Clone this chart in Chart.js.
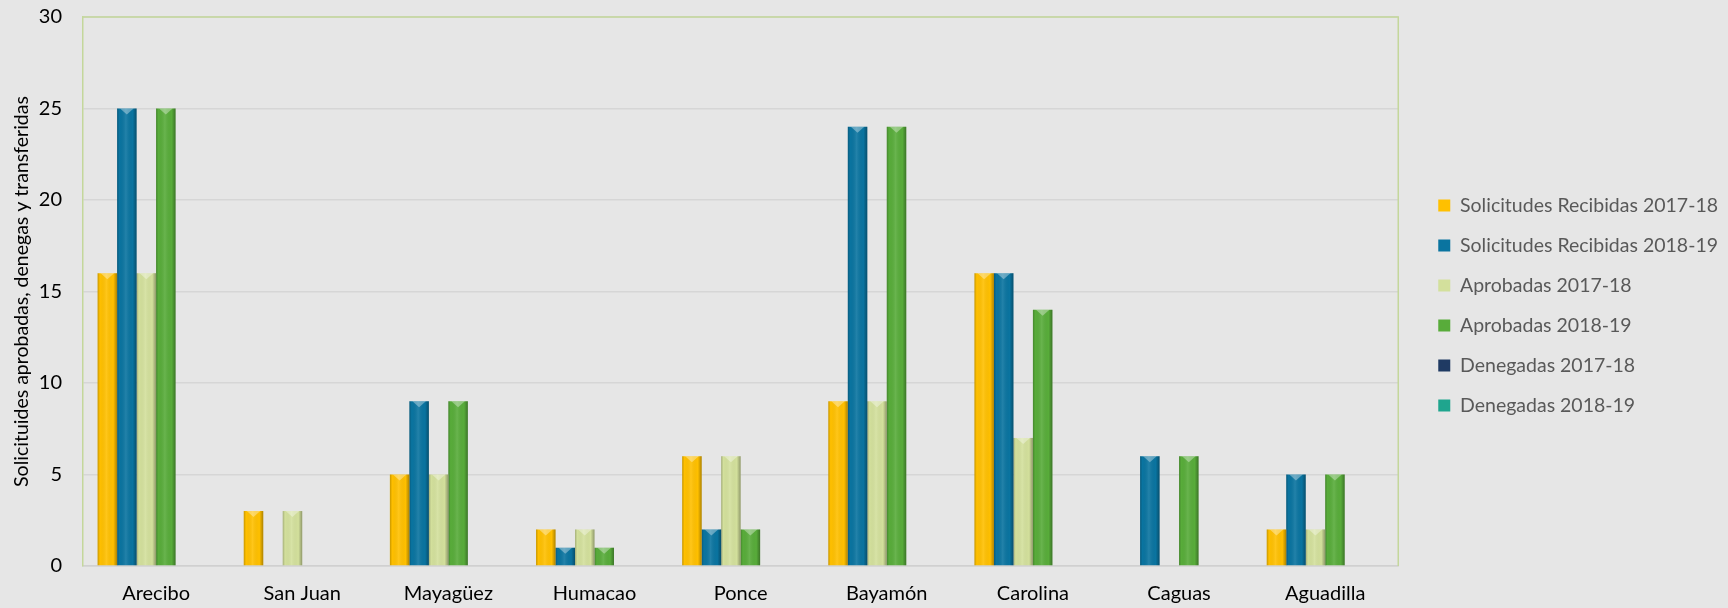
<!DOCTYPE html>
<html><head><meta charset="utf-8">
<script src="https://cdn.jsdelivr.net/npm/chart.js@4"></script>
<style>html,body{margin:0;padding:0;background:#e6e6e6;overflow:hidden}#wrap{width:1728px;height:608px;position:relative}</style>
</head><body><div id="wrap"><canvas id="c" width="1728" height="608"></canvas></div>
<script>
const categories = ['Arecibo','San Juan','Mayagüez','Humacao','Ponce','Bayamón','Carolina','Caguas','Aguadilla'];
const seriesNames = ['Solicitudes Recibidas 2017-18','Solicitudes Recibidas 2018-19','Aprobadas 2017-18','Aprobadas 2018-19','Denegadas 2017-18','Denegadas 2018-19'];
const recibidas1718 = [16,3,5,2,6,9,16,0,2];
const recibidas1819 = [25,0,9,1,2,24,16,6,5];
const aprobadas1718 = [16,3,5,2,6,9,7,0,2];
const aprobadas1819 = [25,0,9,1,2,24,14,6,5];
const denegadas1718 = [0,0,0,0,0,0,0,0,0];
const denegadas1819 = [0,0,0,0,0,0,0,0,0];
const yTicks = [0,5,10,15,20,25,30];
const yTitle = 'Solicituides aprobadas, denegas y transferidas';

const seriesValues = [recibidas1718, recibidas1819, aprobadas1718, aprobadas1819, denegadas1718, denegadas1819];
const seriesColors = ['#FFC000','#0A74A0','#D3E09C','#58AC3A','#1F3A63','#1FA58E'];
const FONT = 'Lato';
const LEGEND_SIZE = 19.5;
const LEGEND_PAD = 20.5;
const LEGEND_BOX = 12;
const LEGEND_GAP = 19.5;
const LEGEND_SHIFT_Y = -7;

const shadePlugin = {
  id: 'shade',
  afterDatasetsDraw(chart) {
    const ctx = chart.ctx;
    chart.data.datasets.forEach((ds, di) => {
      const meta = chart.getDatasetMeta(di);
      meta.data.forEach(el => {
        const p = el.getProps(['x','y','base','width'], true);
        const h = p.base - p.y;
        if (Math.abs(h) < 1) return;
        const l = p.x - p.width/2, r = p.x + p.width/2;
        const g = ctx.createLinearGradient(l, 0, r, 0);
        g.addColorStop(0, 'rgba(0,0,0,0.22)');
        g.addColorStop(0.12, 'rgba(0,0,0,0.0)');
        g.addColorStop(0.45, 'rgba(255,255,255,0.10)');
        g.addColorStop(0.8, 'rgba(0,0,0,0.0)');
        g.addColorStop(1, 'rgba(0,0,0,0.32)');
        ctx.save();
        ctx.fillStyle = g;
        ctx.fillRect(l, p.y, p.width, h);
        ctx.beginPath();
        ctx.moveTo(l + 3, p.y);
        ctx.lineTo(r - 3, p.y);
        ctx.lineTo(p.x, p.y + 6);
        ctx.closePath();
        ctx.fillStyle = 'rgba(255,255,255,0.35)';
        ctx.fill();
        ctx.restore();
      });
    });
  }
};

const borderPlugin = {
  id: 'plotBorder',
  beforeDatasetsDraw(chart) {
    const {ctx, chartArea: a} = chart;
    ctx.save();
    ctx.strokeStyle = '#C4D79B';
    ctx.lineWidth = 1.5;
    ctx.beginPath();
    ctx.moveTo(a.left, a.top);
    ctx.lineTo(a.right, a.top);
    ctx.lineTo(a.right, a.bottom);
    ctx.stroke();
    ctx.restore();
  }
};

const legendGapPlugin = {
  id: 'legendGap',
  beforeLayout(chart) {
    const lg = chart.legend;
    if (lg && !lg.__gapPatched) {
      const orig = lg.fit;
      lg.fit = function () { orig.call(this); this.width += LEGEND_GAP; };
      lg.__gapPatched = true;
    }
  },
  afterLayout(chart) {
    const lg = chart.legend;
    if (!lg) return;
    lg.left += LEGEND_GAP;
    lg.top += LEGEND_SHIFT_Y;
    lg.bottom += LEGEND_SHIFT_Y;
    // keep the widest label inside the canvas
    const ctx = chart.ctx;
    ctx.save();
    ctx.font = LEGEND_SIZE + 'px ' + FONT;
    let maxW = 0;
    seriesNames.forEach(n => { maxW = Math.max(maxW, ctx.measureText(n).width); });
    ctx.restore();
    const textEnd = lg.left + LEGEND_PAD + LEGEND_BOX + LEGEND_SIZE / 2 + maxW;
    const over = textEnd - (chart.width - 4);
    if (over > 0) lg.left -= over;
  }
};

function draw() {
  new Chart(document.getElementById('c'), {
    type: 'bar',
    data: {
      labels: categories,
      datasets: seriesNames.map((n, i) => ({
        label: n,
        data: seriesValues[i],
        backgroundColor: seriesColors[i],
        borderWidth: 0,
        categoryPercentage: 0.8,
        barPercentage: 1.0
      }))
    },
    options: {
      responsive: false,
      animation: false,
      devicePixelRatio: 1,
      layout: { padding: { top: 17, right: 0, left: 0, bottom: 0 } },
      plugins: {
        legend: {
          position: 'right',
          labels: {
            boxWidth: LEGEND_BOX, boxHeight: LEGEND_BOX, padding: LEGEND_PAD,
            color: '#595959',
            font: { family: FONT, size: LEGEND_SIZE }
          }
        },
        tooltip: { enabled: false }
      },
      scales: {
        x: {
          afterFit: s => { s.height = 42; },
          grid: { display: false, drawTicks: false },
          border: { display: true, color: '#D0D0D0', width: 1.5 },
          ticks: { color: '#000', font: { family: FONT, size: 20 }, padding: 16, maxRotation: 0 }
        },
        y: {
          min: 0, max: 30,
          afterBuildTicks: s => { s.ticks = yTicks.map(v => ({ value: v })); },
          afterFit: s => { s.width = 83; s.paddingTop = 10; s.paddingBottom = 10; },
          grid: { color: '#D6D6D6', lineWidth: 1.5, drawTicks: false },
          border: { display: true, color: '#C4D79B', width: 1.5 },
          ticks: { color: '#000', font: { family: FONT, size: 20 }, padding: 21 },
          title: { display: true, text: yTitle, color: '#000', font: { family: FONT, size: 19.5 }, padding: { top: 10, bottom: 0 } }
        }
      }
    },
    plugins: [borderPlugin, shadePlugin, legendGapPlugin]
  });
}

Promise.all([
  document.fonts.load(LEGEND_SIZE + 'px ' + FONT),
  document.fonts.load('20px ' + FONT)
]).then(draw, draw);
</script></body></html>
